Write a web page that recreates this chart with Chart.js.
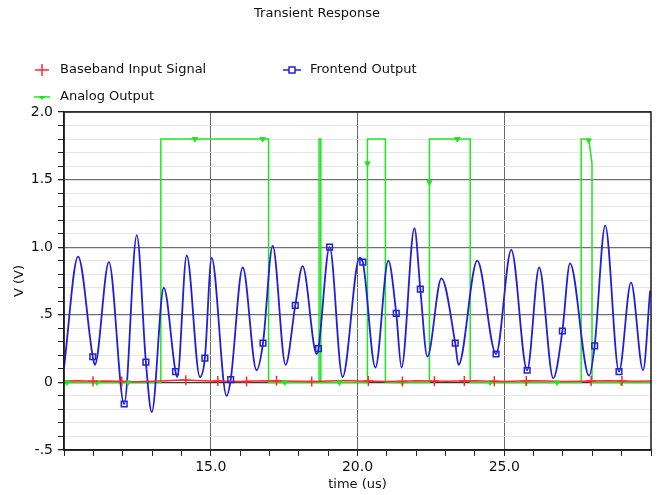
<!DOCTYPE html>
<html>
<head>
<meta charset="utf-8">
<title>Transient Response</title>
<script src="https://cdn.jsdelivr.net/npm/chart.js@4"></script>
<style>
  html, body { margin: 0; padding: 0; background: #fff; }
</style>
</head>
<body>
<canvas id="chart" width="660" height="495"></canvas>
<script>
// Baseband input signal (red), nearly flat around zero
const baseT = [10.0, 10.5, 11.0, 11.5, 12.0, 12.5, 13.0, 13.5, 14.0, 14.5, 15.0, 15.5, 16.0, 16.5, 17.0,
               17.5, 18.0, 18.5, 19.0, 19.5, 20.0, 20.5, 21.0, 21.5, 22.0, 22.5, 23.0, 23.5, 24.0, 24.5,
               25.0, 25.5, 26.0, 26.5, 27.0, 27.5, 28.0, 28.5, 29.0, 29.5, 30.0];
const baseV = [0.010, 0.012, 0.008, 0.010, 0.006, 0.004, 0.008, 0.012, 0.018, 0.014, 0.010, 0.008, 0.006, 0.010, 0.012,
               0.010, 0.008, 0.006, 0.010, 0.014, 0.010, 0.008, 0.006, 0.008, 0.012, 0.010, 0.008, 0.010, 0.012, 0.008,
               0.006, 0.010, 0.012, 0.010, 0.006, 0.008, 0.010, 0.012, 0.010, 0.008, 0.010];
const baseMarkT = [10.99, 11.97, 14.15, 15.24, 16.22, 17.24, 18.44, 20.37, 21.53, 22.62, 23.64, 24.66, 25.75, 27.96, 29.01];
const baseMarkV = [0.008, 0.006, 0.016, 0.010, 0.007, 0.012, 0.007, 0.010, 0.007, 0.009, 0.010, 0.008, 0.010, 0.010, 0.010];

// Frontend output (blue)
const frontT = [10.00, 10.48, 10.98, 11.05, 11.53, 12.05, 12.48, 12.79, 12.99, 13.40, 13.80, 13.86, 14.18, 14.63,
                14.80, 15.03, 15.54, 15.68, 16.09, 16.56, 16.78, 17.11, 17.55, 17.88, 18.13, 18.61, 18.67, 19.05,
                19.49, 20.07, 20.18, 20.61, 21.05, 21.32, 21.50, 21.94, 22.14, 22.38, 22.86, 23.33, 23.44, 24.08,
                24.72, 25.24, 25.78, 26.19, 26.67, 26.98, 27.24, 27.89, 28.08, 28.44, 28.91, 29.32, 29.73, 29.97];
const frontV = [0.11, 0.93, 0.19, 0.13, 0.89, -0.16, 1.09, 0.15, -0.22, 0.70, 0.08, 0.04, 0.94, 0.04,
                0.18, 0.92, -0.10, 0.02, 0.85, 0.09, 0.29, 1.01, 0.13, 0.57, 0.86, 0.21, 0.25, 1.00,
                0.04, 0.92, 0.89, 0.11, 0.90, 0.51, 0.11, 1.14, 0.69, 0.19, 0.77, 0.29, 0.13, 0.90,
                0.21, 0.98, 0.09, 0.85, 0.03, 0.38, 0.88, 0.05, 0.27, 1.16, 0.08, 0.74, 0.09, 0.68];
const frontMarkT = [10.98, 12.05, 12.79, 13.80, 14.80, 15.68, 16.78, 17.88, 18.67, 19.05, 20.18, 21.32, 22.14,
                    23.33, 24.72, 25.78, 26.98, 28.08, 28.91];
const frontMarkV = [0.19, -0.16, 0.15, 0.08, 0.18, 0.02, 0.29, 0.57, 0.25, 1.00, 0.89, 0.51, 0.69,
                    0.29, 0.21, 0.09, 0.38, 0.27, 0.08];

// Analog output (green), digital pulses
const analogT = [10.00, 13.30, 13.30, 16.97, 16.97, 18.69, 18.69, 18.75, 18.75, 20.34, 20.34, 20.95, 20.95,
                 22.45, 22.45, 23.84, 23.84, 27.62, 27.62, 27.88, 27.99, 27.99, 30.00];
const analogV = [0, 0, 1.80, 1.80, 0, 0, 1.80, 1.80, 0, 0, 1.80, 1.80, 0,
                 0, 1.80, 1.80, 0, 0, 1.80, 1.80, 1.62, 0, 0];
const analogMarkT = [10.10, 11.12, 12.18, 14.46, 16.77, 17.52, 19.39, 20.34, 21.53, 22.45, 23.40, 24.52, 25.75, 26.80, 27.88, 28.98];
const analogMarkV = [0, 0, 0, 1.80, 1.80, 0, 0, 1.62, 0, 1.48, 1.80, 0, 0, 0, 1.79, 0];

const xTickLabels = [15, 20, 25];
const yTickLabels = { '20': '2.0', '15': '1.5', '10': '1.0', '5': '.5', '0': '0', '-5': '-.5' };

const RED = '#ff2a2a';
const BLUE = '#2020dc';
const GREEN = '#1ee61e';
const FONT = 'DejaVu Sans';

const pts = (ts, vs) => ts.map((t, i) => ({ x: t, y: vs[i] }));

function drawMarker(ctx, kind, x, y, color) {
    ctx.strokeStyle = color;
    ctx.fillStyle = color;
    ctx.lineWidth = 1.5;
    ctx.beginPath();
    if (kind === 'cross') {
        ctx.moveTo(x - 7, y); ctx.lineTo(x + 7, y);
        ctx.moveTo(x, y - 6); ctx.lineTo(x, y + 6);
        ctx.stroke();
    } else if (kind === 'rect') {
        ctx.moveTo(x - 9, y); ctx.lineTo(x + 9, y);
        ctx.stroke();
        ctx.fillStyle = '#fff';
        ctx.fillRect(x - 3, y - 3, 6, 6);
        ctx.strokeRect(x - 3, y - 3, 6, 6);
    } else {
        ctx.moveTo(x - 8, y); ctx.lineTo(x + 8, y);
        ctx.stroke();
        ctx.beginPath();
        ctx.moveTo(x - 3.5, y - 1); ctx.lineTo(x + 3.5, y - 1); ctx.lineTo(x, y + 3);
        ctx.closePath();
        ctx.fill();
    }
}

// title, legend and plot frame
const decorations = {
    id: 'decorations',
    afterDraw(chart) {
        const { ctx, chartArea: a } = chart;
        ctx.save();
        ctx.strokeStyle = '#1a1a1a';
        ctx.lineWidth = 1.5;
        ctx.strokeRect(a.left, a.top, a.right - a.left, a.bottom - a.top);

        ctx.fillStyle = '#111';
        ctx.font = '13px "' + FONT + '"';
        ctx.textAlign = 'center';
        ctx.textBaseline = 'middle';
        ctx.fillText('Transient Response', 317, 14);

        const items = [
            { text: 'Baseband Input Signal', color: RED, kind: 'cross', x: 42, y: 70 },
            { text: 'Frontend Output', color: BLUE, kind: 'rect', x: 292, y: 70 },
            { text: 'Analog Output', color: GREEN, kind: 'tri', x: 42, y: 97 }
        ];
        items.forEach(it => {
            drawMarker(ctx, it.kind, it.x, it.y, it.color);
            ctx.fillStyle = '#111';
            ctx.textAlign = 'left';
            ctx.fillText(it.text, it.x + 18, it.y);
        });
        ctx.restore();
    }
};

new Chart(document.getElementById('chart'), {
    type: 'line',
    data: {
        datasets: [
            {
                label: 'Baseband Input Signal markers',
                data: pts(baseMarkT, baseMarkV),
                showLine: false,
                pointStyle: 'cross',
                pointRadius: 5,
                borderColor: RED,
                borderWidth: 1.5,
                order: 1
            },
            {
                label: 'Frontend Output markers',
                data: pts(frontMarkT, frontMarkV),
                showLine: false,
                pointStyle: 'rect',
                pointRadius: 4,
                borderColor: BLUE,
                backgroundColor: 'rgba(255,255,255,0)',
                borderWidth: 1.5,
                order: 1
            },
            {
                label: 'Analog Output markers',
                data: pts(analogMarkT, analogMarkV),
                showLine: false,
                pointStyle: 'triangle',
                rotation: 180,
                pointRadius: 3,
                borderColor: GREEN,
                backgroundColor: GREEN,
                borderWidth: 1,
                order: 1
            },
            {
                label: 'Baseband Input Signal',
                data: pts(baseT, baseV),
                borderColor: RED,
                borderWidth: 1.5,
                pointRadius: 0,
                order: 2
            },
            {
                label: 'Frontend Output',
                data: pts(frontT, frontV),
                borderColor: BLUE,
                borderWidth: 1.8,
                pointRadius: 0,
                cubicInterpolationMode: 'monotone',
                order: 3
            },
            {
                label: 'Analog Output',
                data: pts(analogT, analogV),
                borderColor: GREEN,
                borderWidth: 1.5,
                pointRadius: 0,
                order: 4
            }
        ]
    },
    options: {
        responsive: false,
        animation: false,
        layout: { padding: { top: 112, right: 9, left: 0, bottom: 0 } },
        plugins: {
            legend: { display: false },
            title: { display: false },
            tooltip: { enabled: false }
        },
        scales: {
            x: {
                type: 'linear',
                min: 10,
                max: 30,
                afterFit(scale) { scale.height = 45; },
                ticks: {
                    stepSize: 1,
                    autoSkip: false,
                    maxRotation: 0,
                    padding: 3,
                    color: '#111',
                    font: { family: FONT, size: 14 },
                    callback: v => xTickLabels.includes(v) ? v.toFixed(1) : ''
                },
                grid: {
                    color: c => (c.tick && xTickLabels.includes(c.tick.value)) ? '#6a6a6a' : 'rgba(0,0,0,0)',
                    tickColor: '#222',
                    tickLength: 6
                },
                border: { color: '#1a1a1a', width: 1.5 },
                title: {
                    display: true,
                    text: 'time (us)',
                    color: '#111',
                    font: { family: FONT, size: 13 },
                    padding: { top: 0, bottom: 3 }
                }
            },
            y: {
                min: -0.5,
                max: 2.0,
                afterFit(scale) { scale.width = 64; },
                ticks: {
                    stepSize: 0.1,
                    autoSkip: false,
                    padding: 5,
                    color: '#111',
                    font: { family: FONT, size: 14 },
                    callback: v => yTickLabels[String(Math.round(v * 10))] || ''
                },
                grid: {
                    color: c => {
                        const k = Math.round(c.tick.value * 10);
                        if (k === 0) return '#3a3a3a';
                        return k % 5 === 0 ? '#707070' : '#e6e6e6';
                    },
                    lineWidth: c => (Math.round(c.tick.value * 10) % 5 === 0 ? 1.3 : 1),
                    tickColor: '#222',
                    tickLength: 6
                },
                border: { color: '#1a1a1a', width: 1.5 },
                title: {
                    display: true,
                    text: 'V (V)',
                    color: '#111',
                    font: { family: FONT, size: 13 },
                    padding: { top: 12, bottom: 4 }
                }
            }
        }
    },
    plugins: [decorations]
});
</script>
</body>
</html>
